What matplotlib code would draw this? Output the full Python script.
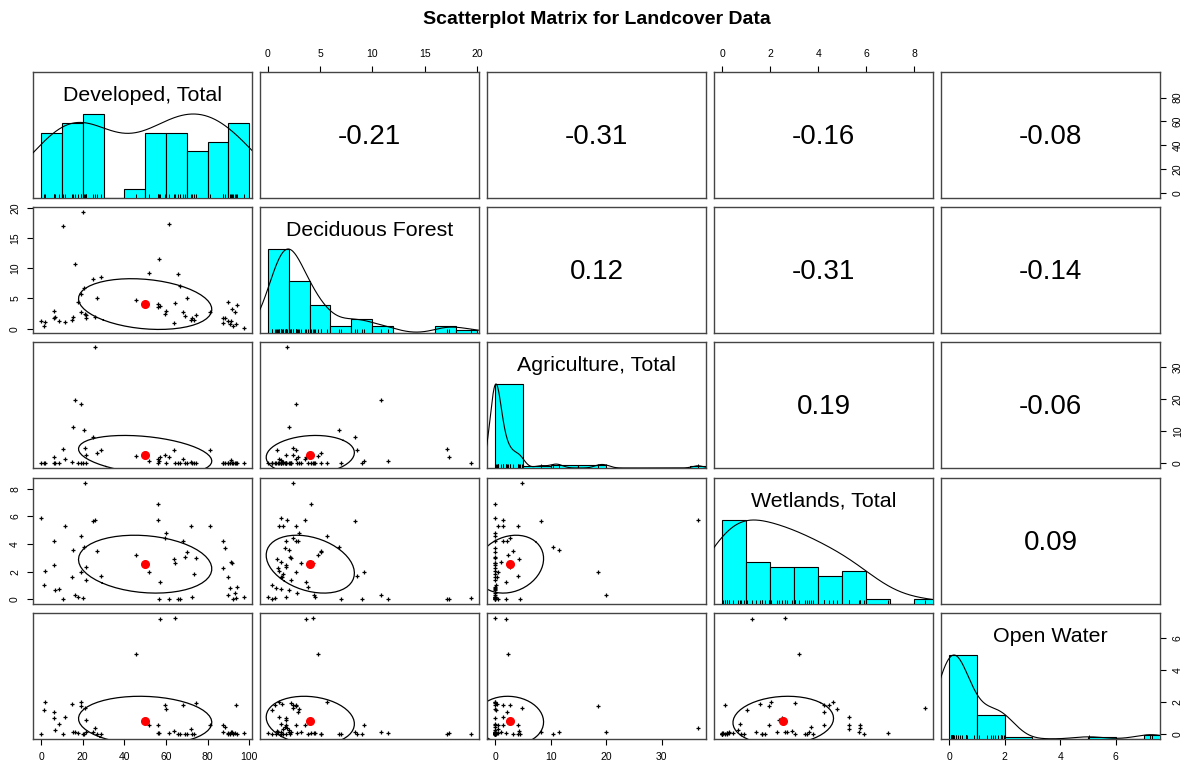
import numpy as np
import matplotlib
matplotlib.use("Agg")
import matplotlib.pyplot as plt

plt.rcParams['font.family'] = ['Liberation Sans', 'DejaVu Sans']

# variable names shown on the diagonal
names = ["Developed, Total", "Deciduous Forest", "Agriculture, Total",
         "Wetlands, Total", "Open Water"]

developed = [0.0, 1.3, 1.8, 6.1, 6.1, 6.6, 8.5, 10.5, 11.6, 14.6,
             15.3, 16.3, 17.8, 19.0, 19.1, 20.2, 20.6, 21.2, 21.5, 21.8,
             24.8, 25.8, 26.9, 28.9, 45.8, 51.7, 56.0, 56.3, 56.8, 57.3,
             59.3, 59.9, 61.4, 64.0, 64.5, 65.8, 66.7, 68.0, 69.0, 70.3,
             72.2, 72.7, 73.6, 74.4, 81.3, 87.2, 87.5, 88.3, 89.7, 89.8,
             90.6, 91.1, 91.5, 92.0, 92.9, 93.4, 93.9, 97.4]
deciduous = [1.3, 0.4, 1.1, 2.9, 1.8, 2.0, 1.3, 17.1, 1.1, 1.4,
             2.0, 10.8, 4.5, 5.7, 2.7, 19.4, 6.8, 2.4, 1.8, 2.2,
             8.3, 1.9, 5.1, 8.5, 4.8, 9.2, 3.6, 4.1, 11.5, 3.7,
             2.4, 3.0, 17.3, 0.9, 4.3, 9.0, 7.0, 2.7, 2.1, 5.1,
             1.5, 1.8, 1.5, 2.2, 2.7, 1.8, 1.0, 1.7, 1.3, 4.4,
             0.85, 1.3, 3.2, 0.4, 2.8, 0.7, 3.9, 0.05]
agriculture = [0.0, 0.1, 0.0, 2.1, 0.0, 0.0, 0.0, 4.4, 1.4, 0.4,
               11.5, 19.9, 0.0, 0.0, 18.6, 0.0, 10.5, 4.8, 2.6, 0.0,
               8.2, 36.5, 3.3, 4.1, 2.4, 0.6, 1.4, 0.0, 0.6, 1.9,
               2.6, 0.0, 2.0, 4.3, 0.0, 0.0, 0.0, 1.4, 0.0, 0.0,
               0.5, 0.0, 0.0, 0.0, 4.1, 0.0, 0.0, 0.0, 0.0, 0.0,
               0.0, 1.0, 0.0, 0.0, 0.0, 0.0, 0.0, 0.0]
wetlands = [5.9, 1.05, 2.02, 4.25, 2.5, 0.67, 0.74, 0.0, 5.3, 1.58,
            3.6, 0.3, 0.2, 4.6, 1.95, 0.12, 3.8, 8.44, 2.35, 1.4,
            5.7, 5.76, 3.53, 1.68, 3.19, 1.95, 5.75, 6.9, 0.05, 1.26,
            4.45, 4.77, 0.0, 2.89, 2.6, 0.0, 0.0, 4.25, 3.05, 3.46,
            5.3, 0.2, 1.8, 3.02, 5.3, 4.25, 2.27, 3.7, 1.65, 0.3,
            0.8, 2.7, 2.6, 0.0, 0.45, 0.12, 0.9, 0.2]
open_water = [0.0, 1.5, 2.02, 1.38, 1.0, 0.26, 0.66, 0.0, 1.06, 1.9,
              0.13, 0.13, 0.06, 2.0, 1.77, 0.0, 0.0, 1.64, 0.9, 0.15,
              0.15, 0.38, 0.0, 0.0, 5.02, 0.6, 0.6, 0.1, 0.1, 7.23,
              1.85, 1.57, 0.06, 0.23, 7.3, 0.0, 0.0, 1.85, 0.0, 0.0,
              0.32, 0.0, 0.0, 1.96, 0.6, 0.6, 0.15, 0.45, 0.0, 0.1,
              0.0, 0.17, 0.15, 0.0, 0.1, 1.85, 0.0, 0.06]

# correlations printed in the upper panels, row by row
corr_values = [-0.21, -0.31, -0.16, -0.08,
               0.12, -0.31, -0.14,
               0.19, -0.06,
               0.09]

# histogram breaks
dev_breaks = np.arange(0, 101, 10)
dec_breaks = np.arange(0, 21, 2)
agri_breaks = np.arange(0, 41, 5)
wet_breaks = np.arange(0, 10, 1)
ow_breaks = np.arange(0, 9, 1)

# axis ticks
dev_ticks = [0, 20, 40, 60, 80, 100]
dev_ticks_right = [0, 20, 40, 60, 80]
dec_ticks = [0, 5, 10, 15, 20]
agri_ticks = [0, 10, 20, 30]
wet_ticks = [0, 2, 4, 6, 8]
ow_ticks = [0, 2, 4, 6]

data = [np.array(v, dtype=float) for v in
        (developed, deciduous, agriculture, wetlands, open_water)]
breaks = [dev_breaks, dec_breaks, agri_breaks, wet_breaks, ow_breaks]
x_ticks = [dev_ticks, dec_ticks, agri_ticks, wet_ticks, ow_ticks]
y_ticks = [dev_ticks_right, dec_ticks, agri_ticks, wet_ticks, ow_ticks]

n = len(names)
corr = np.eye(n)
k = 0
for i in range(n):
    for j in range(i + 1, n):
        corr[i, j] = corr[j, i] = corr_values[k]
        k += 1


def pad_range(v):
    lo, hi = v.min(), v.max()
    d = (hi - lo) * 0.04
    return lo - d, hi + d


def r_hist(v, b):
    # right closed bins like R's hist()
    idx = np.clip(np.searchsorted(b, v, side='left') - 1, 0, len(b) - 2)
    return np.bincount(idx, minlength=len(b) - 1)


def r_density(v):
    sd = v.std(ddof=1)
    q75, q25 = np.percentile(v, [75, 25])
    bw = 1.06 * min(sd, (q75 - q25) / 1.34) * len(v) ** -0.2 * 1.2
    grid = np.linspace(v.min() - 3 * bw, v.max() + 3 * bw, 512)
    d = np.exp(-0.5 * ((grid[:, None] - v[None, :]) / bw) ** 2).sum(axis=1)
    return grid, d / d.max()


lims = [pad_range(v) for v in data]

W, H = 1186, 770
col_left = [33, 260, 487, 714, 941]
row_top = [72, 207, 342, 478, 613]
pw, ph = 219, 126

fig = plt.figure(figsize=(W / 100, H / 100), dpi=100)
fig.text(596.5 / W, 1 - 19.5 / H, "Scatterplot Matrix for Landcover Data",
         ha='center', va='center', fontsize=14, fontweight='bold')

box_col = '#444444'
for i in range(n):
    for j in range(n):
        ax = fig.add_axes([col_left[j] / W, 1 - (row_top[i] + ph) / H, pw / W, ph / H])
        for s in ax.spines.values():
            s.set_color(box_col)
            s.set_linewidth(1.0)
        ax.tick_params(direction='out', length=4.3, width=0.8, pad=5,
                       labelsize=7.5, colors='black')
        ax.set_xticks([])
        ax.set_yticks([])

        if i == j:
            # histogram, density and rug on the diagonal
            v = data[i]
            b = breaks[i]
            cnt = r_hist(v, b)
            hx = ax.twinx()
            hx.bar(b[:-1], cnt / cnt.max(), width=np.diff(b), align='edge',
                   color='#00FFFF', edgecolor='black', linewidth=0.8)
            gx, gy = r_density(v)
            hx.plot(gx, gy, color='black', linewidth=0.8)
            hx.vlines(v, 0, 0.045, color='black', linewidth=0.7)
            hx.set_ylim(0, 1.5)
            hx.set_yticks([])
            for s in hx.spines.values():
                s.set_visible(False)
            hx.text(0.5, 0.815, names[i], transform=ax.transAxes,
                    ha='center', va='center', fontsize=15.4)
        elif i < j:
            # correlation text
            ax.text(0.5, 0.485, "%.2f" % corr[i, j], transform=ax.transAxes,
                    ha='center', va='center', fontsize=20)
        else:
            # scatter with correlation ellipse
            xv, yv = data[j], data[i]
            ax.plot(xv, yv, linestyle='none', marker='+', markersize=3.3,
                    markeredgewidth=0.9, color='black')
            r = corr[j, i]
            th = np.sign(r) / np.sqrt(2) if abs(r) > 0 else 1 / np.sqrt(2)
            shape = np.diag([np.sqrt(1 + r), np.sqrt(1 - r)]) @ np.array([[th, th], [-th, th]])
            ang = np.arange(52) * 2 * np.pi / 51
            ell = np.column_stack([np.cos(ang), np.sin(ang)]) @ shape
            ax.plot(ell[:, 0] * xv.std(ddof=1) + xv.mean(),
                    ell[:, 1] * yv.std(ddof=1) + yv.mean(),
                    color='black', linewidth=0.9)
            ax.plot([xv.mean()], [yv.mean()], marker='o', markersize=5.5,
                    color='red', linestyle='none')

        # outer axes alternate sides like R's pairs()
        if i == n - 1 and j % 2 == 0:
            ax.set_xticks(x_ticks[j])
        if i == 0 and j % 2 == 1:
            ax.xaxis.tick_top()
            ax.set_xticks(x_ticks[j])
        if j == 0 and i % 2 == 1:
            ax.set_yticks(y_ticks[i])
            ax.tick_params(axis='y', labelrotation=90)
            for t in ax.get_yticklabels():
                t.set_va('center')
        if j == n - 1 and i % 2 == 0:
            ax.yaxis.tick_right()
            ax.set_yticks(y_ticks[i])
            ax.tick_params(axis='y', labelrotation=90)
            for t in ax.get_yticklabels():
                t.set_va('center')

        ax.set_xlim(lims[j])
        ax.set_ylim(lims[i])

fig.savefig("out.png", dpi=100)
